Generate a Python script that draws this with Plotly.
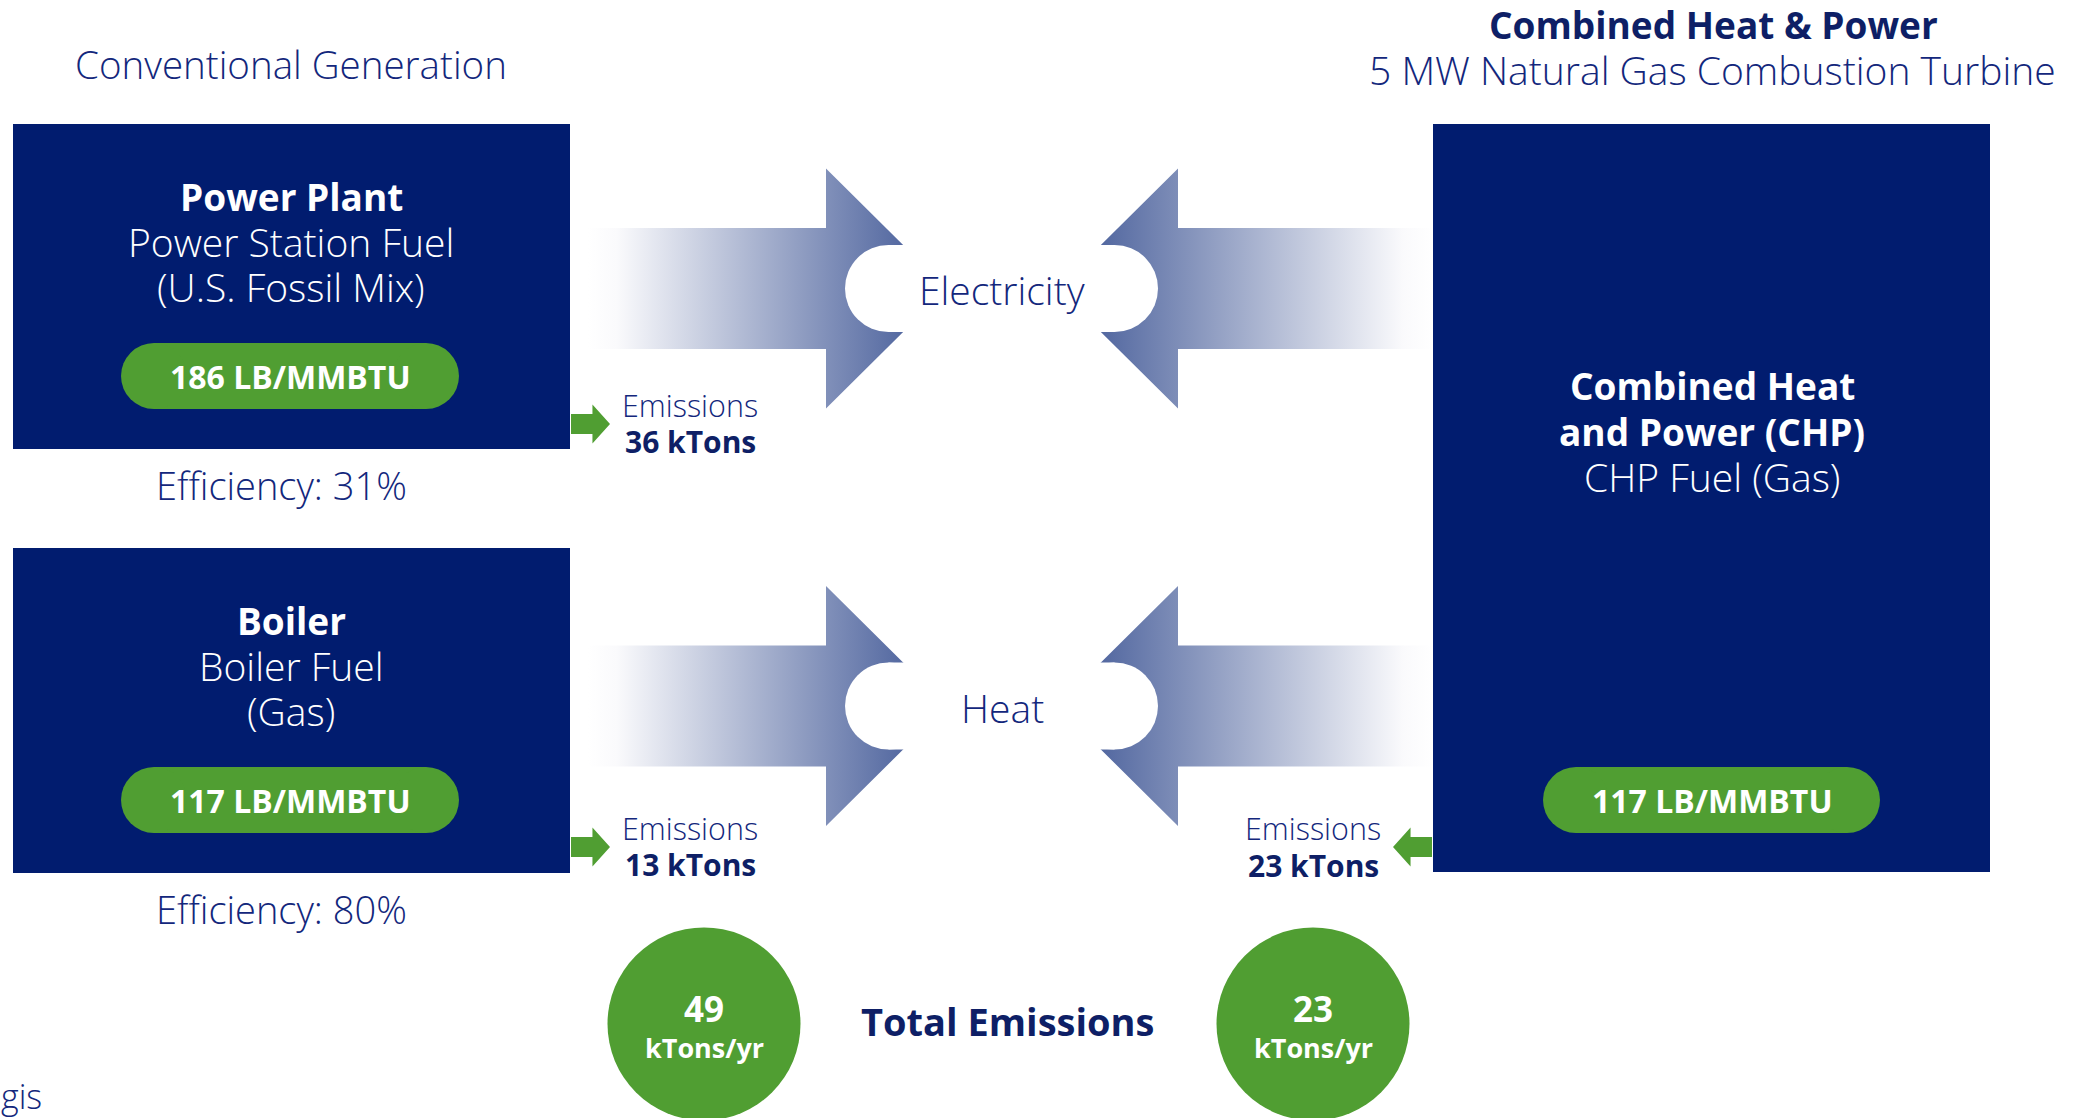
import plotly.graph_objects as go

W, H = 2078, 1118

# ---------------- data ----------------
emission_factors = [186, 117, 117]          # LB/MMBTU : power plant, boiler, CHP
efficiencies = [31, 80]                      # % : power plant, boiler
flow_labels = ["Electricity", "Heat"]
flow_emissions_conv = [36, 13]               # kTons : electricity, heat (conventional)
flow_emissions_chp = [23]                    # kTons : CHP
total_emissions = [49, 23]                   # kTons/yr : conventional, CHP
box_titles = ["Power Plant", "Boiler"]
box_subtitles = [["Power Station Fuel", "(U.S. Fossil Mix)"], ["Boiler Fuel", "(Gas)"]]
chp_titles = ["Combined Heat", "and Power (CHP)"]
chp_subtitle = "CHP Fuel (Gas)"

# ---------------- style ----------------
NAVY = "#011C6F"
GREEN = "#509E32"
TXT = "#13277C"
DARK = "#0E1F66"
ARROW_DARK = "#3B5393"
WHITE = "#ffffff"
FONT = "Open Sans"

fig = go.Figure()
shapes = []
ann = []


def text(x, y, s, size, color=TXT, bold=False, xanchor="center"):
    ann.append(dict(x=x, y=y, xref="x", yref="y", text=(f"<b>{s}</b>" if bold else s),
                    showarrow=False, xanchor=xanchor, yanchor="middle", borderpad=0,
                    font=dict(family=FONT, size=size, color=color,
                              weight=(700 if bold else 300))))


def rect(x0, y0, x1, y1, color):
    shapes.append(dict(type="rect", x0=x0, y0=y0, x1=x1, y1=y1, xref="x", yref="y",
                       fillcolor=color, line=dict(width=0)))


def circle(cx, cy, r, color):
    shapes.append(dict(type="circle", x0=cx - r, x1=cx + r, y0=cy - r, y1=cy + r,
                       xref="x", yref="y", fillcolor=color, line=dict(width=0)))


def stadium(x0, y0, x1, y1, color):
    r = (y1 - y0) / 2
    rect(x0 + r, y0, x1 - r, y1, color)
    circle(x0 + r, y0 + r, r, color)
    circle(x1 - r, y0 + r, r, color)


def poly(pts, color):
    d = "M " + " L ".join(f"{x},{y}" for x, y in pts) + " Z"
    shapes.append(dict(type="path", path=d, xref="x", yref="y", fillcolor=color,
                       line=dict(width=0)))


def big_arrow(direction, yc):
    sh, hh = 60.5, 120
    if direction == "right":
        x0, xb, xt = 588, 826, 947
        cs = [[0, WHITE], [0.08, "#fafafc"], [1, ARROW_DARK]]
        start, stop = x0, xt
    else:
        x0, xb, xt = 1433, 1178, 1057
        cs = [[0, ARROW_DARK], [0.92, "#fafafc"], [1, WHITE]]
        start, stop = xt, x0
    xs = [x0, xb, xb, xt, xb, xb, x0, x0]
    ys = [yc - sh, yc - sh, yc - hh, yc, yc + hh, yc + sh, yc + sh, yc - sh]
    fig.add_trace(go.Scatter(x=xs, y=ys, mode="lines", fill="toself",
                             line=dict(width=0, color="rgba(0,0,0,0)"),
                             fillgradient=dict(type="horizontal", colorscale=cs,
                                               start=start, stop=stop),
                             hoverinfo="skip", showlegend=False))


def green_arrow(yc, xtail, xtip):
    xb = xtail + (xtip - xtail) * 0.55
    pts = [(xtail, yc - 10), (xb, yc - 10), (xb, yc - 19.5), (xtip, yc),
           (xb, yc + 19.5), (xb, yc + 10), (xtail, yc + 10)]
    poly(pts, GREEN)


# ---------------- big arrows ----------------
row_y = [288.5, 706]
for yc in row_y:
    big_arrow("right", yc)
    big_arrow("left", yc)

# white cut-outs with labels
for yc, lab in zip(row_y, flow_labels):
    stadium(845, yc - 43.5, 1158, yc + 43.5, WHITE)
    text(1002, yc + 1, lab, 39)

# ---------------- conventional boxes ----------------
box_y = [(124, 449), (548, 873)]
for i, (y0, y1) in enumerate(box_y):
    rect(13, y0, 570, y1, NAVY)
    stadium(121, y0 + 219, 459, y0 + 285, GREEN)
    text(291, y0 + 72, box_titles[i], 37, color=WHITE, bold=True)
    text(291, y0 + 117, box_subtitles[i][0], 39, color=WHITE)
    text(291, y0 + 162, box_subtitles[i][1], 39, color=WHITE)
    text(290, y0 + 252, f"{emission_factors[i]} LB/MMBTU", 32, color=WHITE, bold=True)
    text(281, y1 + 36, f"Efficiency: {efficiencies[i]}%", 38)

# ---------------- CHP box ----------------
rect(1433, 124, 1990, 872, NAVY)
text(1712, 385, chp_titles[0], 37, color=WHITE, bold=True)
text(1712, 431, chp_titles[1], 37, color=WHITE, bold=True)
text(1712, 476, chp_subtitle, 39, color=WHITE)
stadium(1543, 767, 1880, 833, GREEN)
text(1712, 800, f"{emission_factors[2]} LB/MMBTU", 32, color=WHITE, bold=True)

# ---------------- headings ----------------
text(291, 64, "Conventional Generation", 38.5)
text(1713, 24, "Combined Heat &amp; Power", 37, color=DARK, bold=True)
text(1712, 69, "5 MW Natural Gas Combustion Turbine", 39)

# ---------------- emissions ----------------
for yc, val in zip([424, 847], flow_emissions_conv):
    green_arrow(yc, 571, 610)
    text(690, yc - 19, "Emissions", 30.5)
    text(690, yc + 17, f"{val} kTons", 30, color=DARK, bold=True)

green_arrow(847, 1432, 1393)
text(1313, 828, "Emissions", 30.5)
text(1313, 865, f"{flow_emissions_chp[0]} kTons", 30, color=DARK, bold=True)

# ---------------- totals ----------------
for cx, val in zip([704, 1313], total_emissions):
    circle(cx, 1024, 96.5, GREEN)
    text(cx, 1008, str(val), 35, color=WHITE, bold=True)
    text(cx, 1047, "kTons/yr", 27, color=WHITE, bold=True)
text(1007, 1021, "Total Emissions", 38, color=DARK, bold=True)

# footer fragment
text(0, 1096, "gis", 34, xanchor="left")

fig.update_layout(
    width=W, height=H, autosize=False,
    margin=dict(l=0, r=0, t=0, b=0, pad=0),
    paper_bgcolor=WHITE, plot_bgcolor=WHITE,
    xaxis=dict(range=[0, W], visible=False, fixedrange=True),
    yaxis=dict(range=[H, 0], visible=False, fixedrange=True),
    shapes=shapes, annotations=ann, showlegend=False,
)

fig.write_html("out.html", config={"displayModeBar": False})
